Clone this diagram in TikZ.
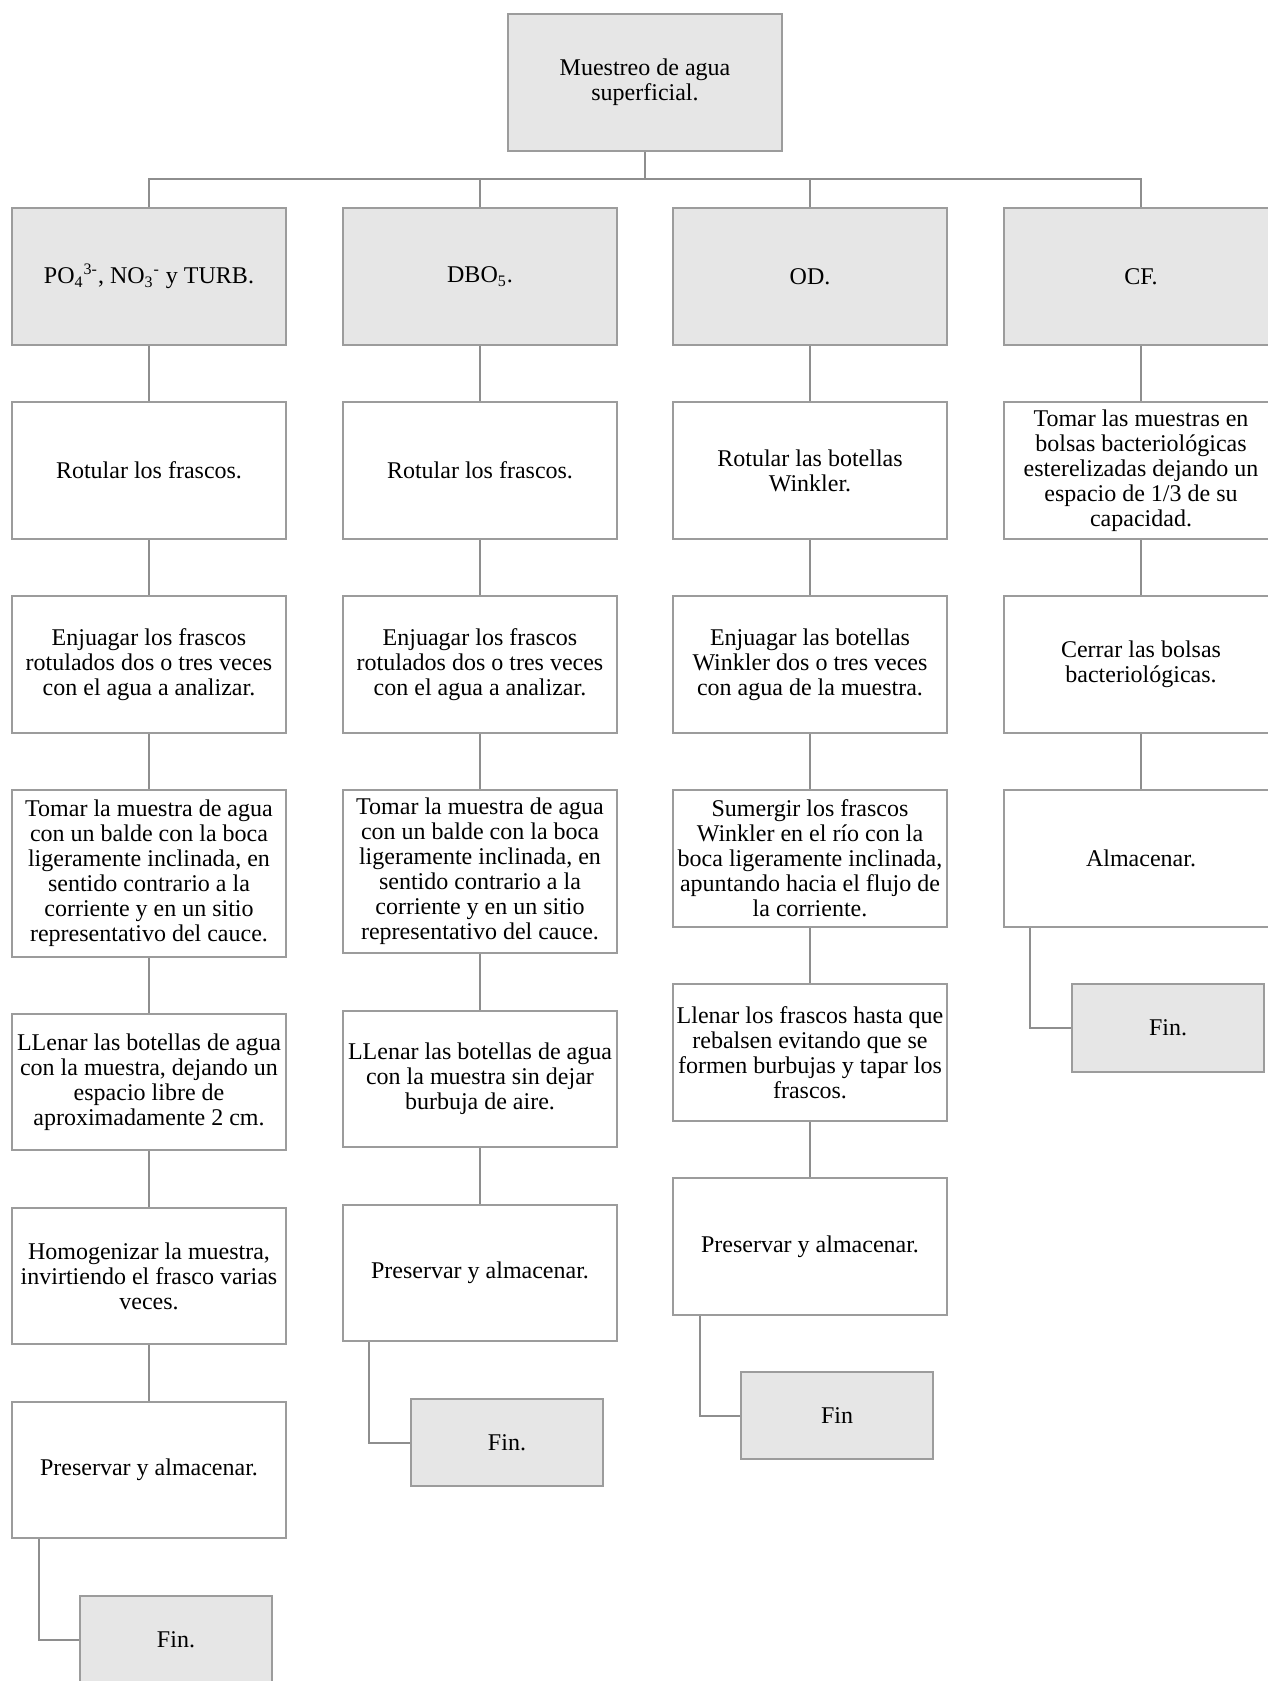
\documentclass[tikz,border=0pt]{standalone}
\usepackage{fontspec}
\setmainfont{Liberation Serif}
\definecolor{bord}{HTML}{9C9C9C}
\definecolor{conncol}{HTML}{8E8E8E}
\definecolor{fillg}{HTML}{E6E6E6}
\newcommand\boxfont{\fontsize{12pt}{12.5pt}\selectfont}
\tikzset{
  wbox/.style={draw=bord, line width=1pt, minimum width=137pt, minimum height=68.5pt,
    align=center, inner sep=1pt, font=\boxfont, fill=white},
  gbox/.style={wbox, fill=fillg},
  finbox/.style={gbox, minimum width=96pt, minimum height=44pt},
  conn/.style={draw=conncol, line width=1pt},
}
\begin{document}
\begin{tikzpicture}[x=0.5pt, y=-0.5pt]
\useasboundingbox (0,0) rectangle (1268,1681);
\clip (0,0) rectangle (1268,1681);
% top
\node[gbox] (top) at (645,82.5) {Muestreo de agua\\superficial.};
% headers
\node[gbox] (h1) at (149,276.5) {PO\textsubscript{4}\textsuperscript{3-}, NO\textsubscript{3}\textsuperscript{-} y TURB.};
\node[gbox] (h2) at (480,276.5) {DBO\textsubscript{5}.};
\node[gbox] (h3) at (810,276.5) {OD.};
\node[gbox] (h4) at (1141,276.5) {CF.};
% column 1
\node[wbox] (a2) at (149,470.5) {Rotular los frascos.};
\node[wbox] (a3) at (149,664.5) {Enjuagar los frascos\\rotulados dos o tres veces\\con el agua a analizar.};
\node[wbox, minimum height=83.5pt] (a4) at (149,873.5) {Tomar la muestra de agua\\con un balde con la boca\\ligeramente inclinada, en\\sentido contrario a la\\corriente y en un sitio\\representativo del cauce.};
\node[wbox, minimum height=68pt] (a5) at (149,1082) {LLenar las botellas de agua\\con la muestra, dejando un\\espacio libre de\\aproximadamente 2 cm.};
\node[wbox, minimum height=68pt] (a6) at (149,1276) {Homogenizar la muestra,\\invirtiendo el frasco varias\\veces.};
\node[wbox, minimum height=68pt] (a7) at (149,1470) {Preservar y almacenar.};
\node[finbox] (f1) at (176,1640) {Fin.};
% column 2
\node[wbox] (b2) at (480,470.5) {Rotular los frascos.};
\node[wbox] (b3) at (480,664.5) {Enjuagar los frascos\\rotulados dos o tres veces\\con el agua a analizar.};
\node[wbox, minimum height=81.5pt] (b4) at (480,871.5) {Tomar la muestra de agua\\con un balde con la boca\\ligeramente inclinada, en\\sentido contrario a la\\corriente y en un sitio\\representativo del cauce.};
\node[wbox, minimum height=68pt] (b5) at (480,1079) {LLenar las botellas de agua\\con la muestra sin dejar\\burbuja de aire.};
\node[wbox, minimum height=68pt] (b6) at (480,1273) {Preservar y almacenar.};
\node[finbox, minimum height=43.5pt] (f2) at (507,1442.5) {Fin.};
% column 3
\node[wbox] (c2) at (810,470.5) {Rotular las botellas\\Winkler.};
\node[wbox] (c3) at (810,664.5) {Enjuagar las botellas\\Winkler dos o tres veces\\con agua de la muestra.};
\node[wbox] (c4) at (810,858.5) {Sumergir los frascos\\Winkler en el río con la\\boca ligeramente inclinada,\\apuntando hacia el flujo de\\la corriente.};
\node[wbox] (c5) at (810,1052.5) {Llenar los frascos hasta que\\rebalsen evitando que se\\formen burbujas y tapar los\\frascos.};
\node[wbox] (c6) at (810,1246.5) {Preservar y almacenar.};
\node[finbox, minimum height=43.5pt] (f3) at (837,1415.5) {Fin};
% column 4
\node[wbox] (d2) at (1141,470.5) {Tomar las muestras en\\bolsas bacteriológicas\\esterelizadas dejando un\\espacio de 1/3 de su\\capacidad.};
\node[wbox] (d3) at (1141,664.5) {Cerrar las bolsas\\bacteriológicas.};
\node[wbox] (d4) at (1141,858.5) {Almacenar.};
\node[finbox] (f4) at (1168,1028) {Fin.};
% connectors top
\coordinate (bus) at (645,179);
\draw[conn] (top.south) -- (bus);
\draw[conn] (h1.north) |- (bus) -| (h4.north);
\draw[conn] (h2.north) -- (h2.north |- bus);
\draw[conn] (h3.north) -- (h3.north |- bus);
% column chains
\draw[conn] (h1.south) -- (a2.north);
\draw[conn] (a2.south) -- (a3.north);
\draw[conn] (a3.south) -- (a4.north);
\draw[conn] (a4.south) -- (a5.north);
\draw[conn] (a5.south) -- (a6.north);
\draw[conn] (a6.south) -- (a7.north);
\draw[conn] ([xshift=14pt]a7.south west) |- (f1.west);
\draw[conn] (h2.south) -- (b2.north);
\draw[conn] (b2.south) -- (b3.north);
\draw[conn] (b3.south) -- (b4.north);
\draw[conn] (b4.south) -- (b5.north);
\draw[conn] (b5.south) -- (b6.north);
\draw[conn] ([xshift=13.5pt]b6.south west) |- (f2.west);
\draw[conn] (h3.south) -- (c2.north);
\draw[conn] (c2.south) -- (c3.north);
\draw[conn] (c3.south) -- (c4.north);
\draw[conn] (c4.south) -- (c5.north);
\draw[conn] (c5.south) -- (c6.north);
\draw[conn] ([xshift=14pt]c6.south west) |- (f3.west);
\draw[conn] (h4.south) -- (d2.north);
\draw[conn] (d2.south) -- (d3.north);
\draw[conn] (d3.south) -- (d4.north);
\draw[conn] ([xshift=13.5pt]d4.south west) |- (f4.west);
\end{tikzpicture}
\end{document}
